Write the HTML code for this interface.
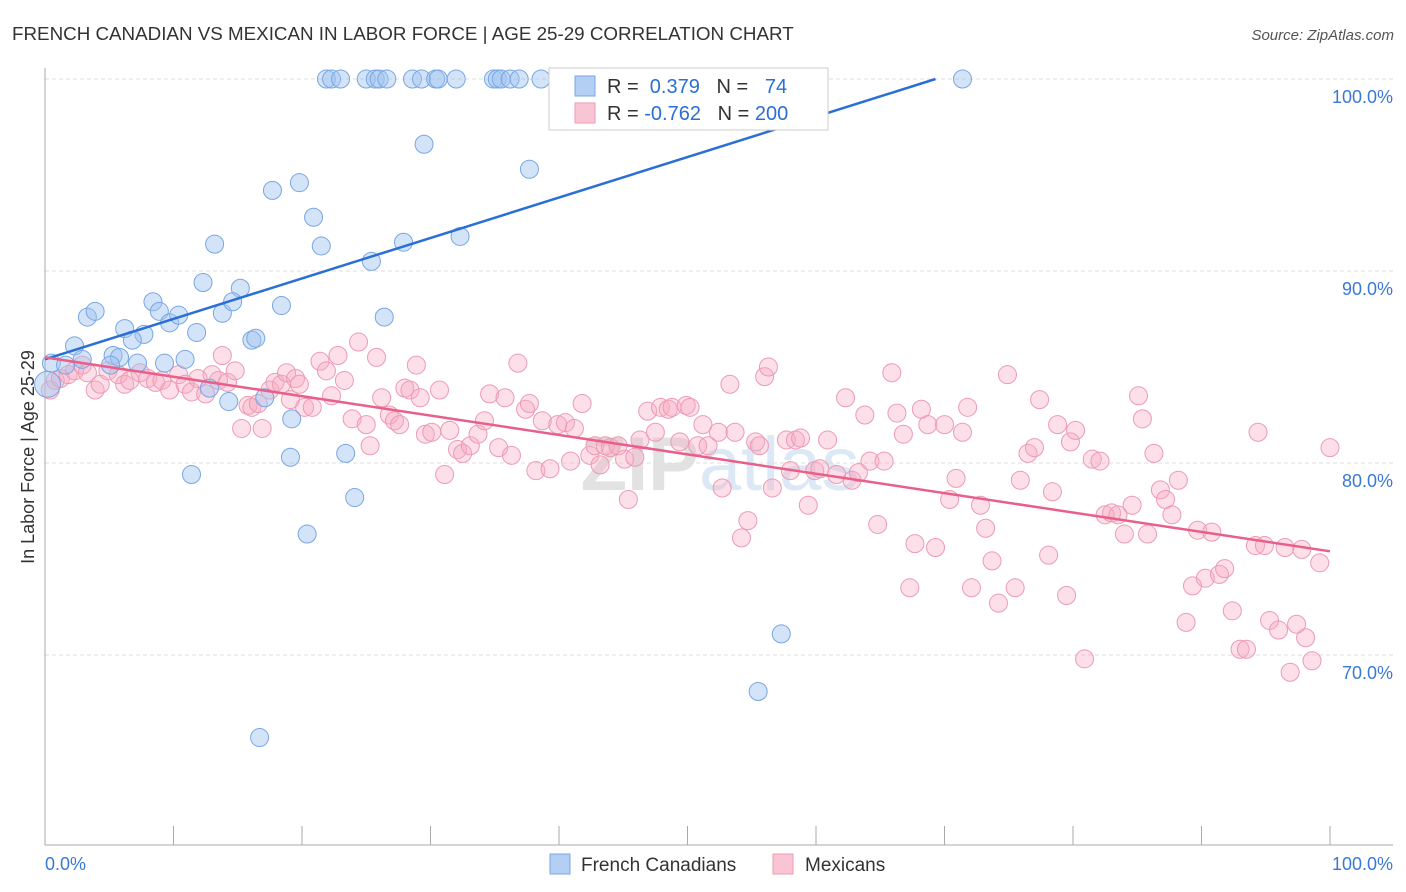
<!DOCTYPE html>
<html><head><meta charset="utf-8"><style>
body{margin:0;background:#fff;font-family:"Liberation Sans",sans-serif}
svg{display:block}
</style></head><body>
<svg width="1406" height="892" xmlns="http://www.w3.org/2000/svg">
<text x="12" y="40" font-size="18.8" fill="#333">FRENCH CANADIAN VS MEXICAN IN LABOR FORCE | AGE 25-29 CORRELATION CHART</text>
<text x="1394" y="40" font-size="15" fill="#555" font-style="italic" text-anchor="end">Source: ZipAtlas.com</text>
<text x="720" y="490" font-size="76" fill="#e2e2e2" text-anchor="middle" font-weight="bold">ZIP<tspan fill="#dde8f6" font-weight="normal">atlas</tspan></text>
<g id="grid"></g>
<g id="axes"></g>
<text transform="translate(34,457) rotate(-90)" font-size="18" fill="#333" text-anchor="middle">In Labor Force | Age 25-29</text>
<g id="pts"></g>
<g id="lines"></g>
<g>
<rect x="549" y="68" width="279" height="62" fill="#fff" stroke="#ccc"/>
<rect x="575" y="76" width="20" height="20" fill="#b3cff3" stroke="#7aa6e6"/>
<rect x="575" y="103" width="20" height="20" fill="#f9c5d4" stroke="#ee9ab3"/>
<text x="607" y="93" font-size="20" fill="#333">R = <tspan fill="#2a6fd6">&#160;0.379</tspan>&#160;&#160;&#160;N = <tspan fill="#2a6fd6">&#160;&#160;74</tspan></text>
<text x="607" y="120" font-size="20" fill="#333">R = <tspan fill="#2a6fd6">-0.762</tspan>&#160;&#160;&#160;N = <tspan fill="#2a6fd6">200</tspan></text>
</g>
<g>
<rect x="550" y="854" width="20" height="20" fill="#b3cff3" stroke="#7aa6e6"/>
<text x="581" y="871" font-size="19" fill="#333">French Canadians</text>
<rect x="773" y="854" width="20" height="20" fill="#f9c5d4" stroke="#ee9ab3"/>
<text x="805" y="871" font-size="19" fill="#333">Mexicans</text>
</g>
</svg>
<script>
const xTicksLabels=["0.0%","100.0%"];
const yTickValues=[100,90,80,70];
const blueX=[21.9,22.3,23.0,25.0,25.7,26.0,26.6,28.6,29.3,30.4,30.6,32.0,34.9,35.2,35.5,36.2,36.9,38.6,71.4,29.5,37.7,17.7,19.8,20.9,13.2,21.5,27.9,32.3,25.4,12.3,15.2,8.4,18.4,3.3,3.9,6.2,8.9,9.7,10.4,13.8,14.6,11.8,7.7,6.8,16.1,16.4,26.4,2.3,0.5,1.6,2.9,5.3,5.8,7.2,9.3,10.9,5.1,0.2,12.8,14.3,17.1,19.2,19.1,23.4,11.4,24.1,20.4,57.3,55.5,16.7];
const blueY=[100,100,100,100,100,100,100,100,100,100,100,100,100,100,100,100,100,100,100,96.6,95.3,94.2,94.6,92.8,91.4,91.3,91.5,91.8,90.5,89.4,89.1,88.4,88.2,87.6,87.9,87.0,87.9,87.3,87.7,87.8,88.4,86.8,86.7,86.4,86.4,86.5,87.6,86.1,85.2,85.1,85.4,85.6,85.5,85.2,85.2,85.4,85.1,84.1,83.9,83.2,83.4,82.3,80.3,80.5,79.4,78.2,76.3,71.1,68.1,65.7];
const pinkX=[0.4,0.8,1.2,1.8,2.3,2.9,3.3,3.9,4.3,4.9,5.7,6.2,6.6,7.4,8.0,8.6,9.1,9.7,10.4,10.9,11.4,11.9,12.5,13.0,13.5,13.8,14.2,14.8,15.3,15.8,16.1,16.6,16.9,17.5,17.9,18.4,18.8,19.1,19.5,19.8,20.2,20.8,21.4,21.9,22.3,22.8,23.3,23.9,24.4,25.0,25.3,25.8,26.2,26.8,27.2,27.6,28.0,28.4,28.9,29.2,29.6,30.1,30.7,31.1,31.5,32.1,32.5,33.1,33.7,34.2,34.6,35.3,35.8,36.3,36.8,37.4,37.7,38.2,38.7,39.3,39.9,40.5,40.9,41.2,41.8,42.4,42.8,43.2,43.6,44.0,44.6,45.1,45.4,45.9,46.3,46.9,47.5,47.9,48.5,48.8,49.4,49.9,50.2,50.8,51.2,51.6,52.4,52.7,53.3,53.7,54.2,54.7,55.3,55.6,56.0,56.3,56.6,57.7,58.0,58.4,58.8,59.4,59.9,60.3,60.9,61.6,62.3,62.8,63.3,63.8,64.2,64.8,65.3,65.9,66.3,66.8,67.3,67.7,68.2,68.7,69.3,70.0,70.4,70.9,71.4,71.8,72.1,72.8,73.2,73.7,74.2,74.9,75.5,75.9,76.5,77.0,77.4,78.1,78.4,78.8,79.5,79.8,80.2,80.9,81.5,82.1,82.5,83.0,83.5,84.0,84.6,85.1,85.4,85.8,86.3,86.8,87.2,87.7,88.2,88.8,89.3,89.7,90.3,90.8,91.4,91.8,92.4,93.0,93.5,94.2,94.4,94.9,95.3,96.0,96.5,96.9,97.4,97.8,98.1,98.6,99.2,100.0];
const pinkY=[83.8,84.3,84.4,84.6,84.8,85.1,84.7,83.8,84.1,84.8,84.6,84.1,84.3,84.7,84.4,84.2,84.3,83.8,84.6,84.1,83.7,84.4,83.6,84.6,84.3,85.6,84.2,84.8,81.8,83.0,82.9,83.1,81.8,83.8,84.2,84.1,84.7,83.3,84.4,84.1,82.9,82.9,85.3,84.8,83.5,85.6,84.3,82.3,86.3,82.0,80.9,85.5,83.4,82.5,82.2,82.0,83.9,83.8,85.1,83.4,81.5,81.6,83.8,79.4,81.7,80.7,80.5,80.9,81.5,82.2,83.6,80.8,83.4,80.4,85.2,82.8,83.1,79.6,82.2,79.7,82.0,82.1,80.1,81.8,83.1,80.4,80.9,79.9,80.9,80.8,80.9,80.2,78.1,80.3,81.2,82.7,81.6,82.9,82.8,82.9,81.1,83.0,82.9,80.9,82.0,80.9,81.6,78.7,84.1,81.6,76.1,77.0,81.1,80.9,84.5,85.0,78.7,81.2,79.6,81.2,81.3,77.8,79.6,79.7,81.2,79.4,83.4,79.1,79.5,82.5,80.1,76.8,80.1,84.7,82.6,81.5,73.5,75.8,82.8,82.0,75.6,82.0,78.1,79.2,81.6,82.9,73.5,77.8,76.6,74.9,72.7,84.6,73.5,79.1,80.5,80.8,83.3,75.2,78.5,82.0,73.1,81.1,81.7,69.8,80.2,80.1,77.3,77.4,77.3,76.3,77.8,83.5,82.3,76.3,80.5,78.6,78.1,77.3,79.1,71.7,73.6,76.5,74.0,76.4,74.2,74.5,72.3,70.3,70.3,75.7,81.6,75.7,71.8,71.3,75.6,69.1,71.6,75.5,70.9,69.7,74.8,80.8];
const blueTrend=[85.4,100];
const blueTrendEndX=69.3;
const pinkTrend=[85.5,75.4];

const NS="http://www.w3.org/2000/svg";
const X0=45,X1=1330,Y100=79,PXPER=19.2;
const sx=v=>X0+(X1-X0)*v/100;
const sy=v=>Y100+(100-v)*PXPER;
function mk(tag,attrs,parent){const e=document.createElementNS(NS,tag);for(const k in attrs)e.setAttribute(k,attrs[k]);parent.appendChild(e);return e;}
const grid=document.getElementById('grid'),axes=document.getElementById('axes'),pts=document.getElementById('pts'),lines=document.getElementById('lines');
yTickValues.forEach(v=>{
 const l=mk('line',{x1:45,x2:1393,y1:sy(v),y2:sy(v),stroke:'#ddd','stroke-dasharray':'4,3'},grid);
 
 
 const t=mk('text',{x:1393,y:sy(v)+24,'font-size':18,fill:'#3a78d8','text-anchor':'end'},grid);
 t.textContent=v.toFixed(1)+'%';
 
 
});
const ya=mk('line',{x1:45,x2:45,y1:68,y2:845,stroke:'#aaa'},axes);


const xa=mk('line',{x1:45,x2:1393,y1:845,y2:845,stroke:'#aaa'},axes);


for(let i=0;i<=10;i++){
 const tk=mk('line',{x1:sx(i*10),x2:sx(i*10),y1:826,y2:845,stroke:'#aaa'},axes);
 
 
}
[[0,'start',45],[1,'end',1393]].forEach(([i,a,x])=>{
 const t=mk('text',{x:x,y:870,'font-size':18,fill:'#3a78d8','text-anchor':a},axes);
 t.textContent=xTicksLabels[i];
 
 
});
pinkX.forEach((v,i)=>{
 const c=mk('circle',{cx:sx(v),cy:sy(pinkY[i]),r:9,fill:'rgba(246,170,195,0.38)',stroke:'#ec9bb4','stroke-width':1},pts);
 
 
});
blueX.forEach((v,i)=>{
 const c=mk('circle',{cx:sx(v),cy:sy(blueY[i]),r:i==57?13:9,fill:'rgba(160,195,240,0.45)',stroke:'#78a6e4','stroke-width':1},pts);
 
 
});
const bl=mk('line',{x1:sx(0),y1:sy(blueTrend[0]),x2:sx(blueTrendEndX),y2:sy(blueTrend[1]),stroke:'#2a6fd6','stroke-width':2.5},lines);


const pl=mk('line',{x1:sx(0),y1:sy(pinkTrend[0]),x2:sx(100),y2:sy(pinkTrend[1]),stroke:'#e8608a','stroke-width':2.5},lines);


</script>
</body></html>
